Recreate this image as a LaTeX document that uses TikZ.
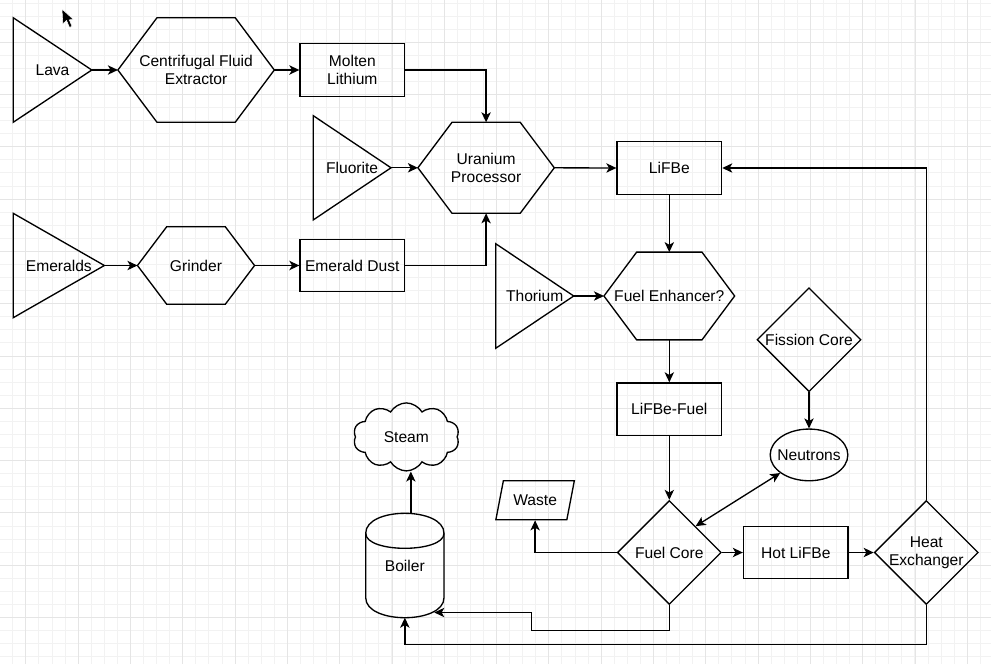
\documentclass[tikz,border=0pt]{standalone}
\usepackage{fontspec}
\setmainfont{Liberation Sans}
\usetikzlibrary{shapes.geometric,shapes.symbols,arrows.meta,calc}

\newlength\pxu
\setlength\pxu{0.75pt}

% outlines drawn from the anchors of a plain node
\newcommand\tri[1]{\draw[outline] (#1.north west) -- (#1.east) -- (#1.south west) -- cycle;}
\newcommand\hexa[1]{\draw[outline] (#1.west) -- ($(#1.north west)!.25!(#1.north east)$)
  -- ($(#1.north west)!.75!(#1.north east)$) -- (#1.east)
  -- ($(#1.south west)!.75!(#1.south east)$) -- ($(#1.south west)!.25!(#1.south east)$) -- cycle;}
\newcommand\drum[1]{\draw[outline] ($(#1.north west)+(0,20)$)
  .. controls ($(#1.north west)+(0,-6.67)$) and ($(#1.north east)+(0,-6.67)$) .. ($(#1.north east)+(0,20)$)
  -- ($(#1.south east)+(0,-20)$)
  .. controls ($(#1.south east)+(0,6.67)$) and ($(#1.south west)+(0,6.67)$) .. ($(#1.south west)+(0,-20)$)
  -- cycle;
  \draw[outline] ($(#1.north west)+(0,20)$)
  .. controls ($(#1.north west)+(0,40)$) and ($(#1.north east)+(0,40)$) .. ($(#1.north east)+(0,20)$);}

\tikzset{
  every node/.style={font=\fontsize{11.7pt}{13.75pt}\selectfont},
  minorgrid/.style={black!5, line width=0.75pt},
  majorgrid/.style={black!10, line width=0.75pt},
  outline/.style={line width=1pt, line join=miter},
  plain/.style={outer sep=0pt, inner sep=1pt, align=center},
  box/.style={draw, line width=1pt, minimum width=104.6\pxu, minimum height=52.5\pxu, inner sep=1pt, align=center},
  rhomb/.style={diamond, draw, line width=1pt, minimum width=104\pxu, minimum height=104\pxu, inner sep=0pt},
  flow/.style={line width=1pt, -{Stealth[length=7.5pt,width=7pt,inset=2pt]}},
  flowboth/.style={line width=1pt, {Stealth[length=7.5pt,width=7pt,inset=2pt]}-{Stealth[length=7.5pt,width=7pt,inset=2pt]}}
}

\begin{document}
\begin{tikzpicture}[x=0.75pt,y=-0.75pt]
\useasboundingbox (0,0) rectangle (991,664);
\fill[white] (0,0) rectangle (991,664);

% grid
\foreach \i in {0,...,75} \draw[minorgrid] ({12.8+13.075*\i},0) -- ++(0,664);
\foreach \j in {0,...,50} \draw[minorgrid] (0,{3+13.075*\j}) -- ++(991,0);
\foreach \i in {0,...,18} \draw[majorgrid] ({25.9+52.3*\i},0) -- ++(0,664);
\foreach \j in {0,...,11} \draw[majorgrid] (0,{42.2+52.3*\j}) -- ++(991,0);

% mouse pointer
\fill[black, draw=white, line width=0.4pt] (62,9) -- (62.8,24) -- (66.5,20.5) -- (69.5,27.5) -- (72,26.3) -- (69.3,19.8) -- (73.5,19.5) -- cycle;

% sources and processors
\node[plain, minimum width=78.6\pxu, minimum height=104.6\pxu] (lava) at (52.5,70) {Lava};
\node[plain, minimum width=156.4\pxu, minimum height=104.6\pxu] (cfe) at (196.1,70) {Centrifugal Fluid\\Extractor};
\node[box] (molten) at (352.3,70) {Molten\\Lithium};

\node[plain, minimum width=77.8\pxu, minimum height=104.3\pxu] (fluorite) at (352.1,167.8) {Fluorite};
\node[plain, minimum width=136.4\pxu, minimum height=91\pxu] (uranium) at (486.1,167.8) {Uranium\\Processor};

\node[plain, minimum width=91.1\pxu, minimum height=104.4\pxu] (emeralds) at (58.8,265.5) {Emeralds};
\node[plain, minimum width=117.1\pxu, minimum height=77.6\pxu] (grinder) at (196,265.5) {Grinder};
\node[box] (dust) at (352.3,265.5) {Emerald Dust};

\node[box] (lifbe) at (669.3,168) {LiFBe};
\node[plain, minimum width=78\pxu, minimum height=104.6\pxu] (thorium) at (534.7,296) {Thorium};
\node[plain, minimum width=130.7\pxu, minimum height=87.7\pxu] (enhancer) at (669.3,296) {Fuel Enhancer?};
\node[box] (lifbefuel) at (669.3,409.2) {LiFBe-Fuel};

\node[rhomb, label=center:{Fission Core}] (fission) at (809,339.7) {};
\node[ellipse, draw, line width=1pt, minimum width=77.7\pxu, minimum height=51.7\pxu, inner sep=0pt, label=center:Neutrons] (neutrons) at (809,454.9) {};

\node[rhomb, label=center:{Fuel Core}] (fuelcore) at (669.3,552.5) {};
\node[trapezium, draw, line width=1pt, trapezium left angle=68, trapezium right angle=112, trapezium stretches, minimum width=78.8\pxu, minimum height=39\pxu, inner sep=1pt] (waste) at (535.1,500.2) {Waste};
\node[box] (hotlifbe) at (795.8,552.5) {Hot LiFBe};
\node[rhomb, label={[align=center]center:Heat\\Exchanger}] (heatx) at (926.3,552.5) {};

\node[plain, minimum width=78.3\pxu, minimum height=104.4\pxu] (boiler) at (404.85,565.5) {Boiler};
\node[cloud, draw, line width=1pt, cloud puffs=10, cloud puff arc=120, aspect=1.6, minimum width=106\pxu, minimum height=68\pxu, inner sep=1pt] (steam) at (406.3,436.9) {Steam};

\tri{lava}
\tri{fluorite}
\tri{emeralds}
\tri{thorium}
\hexa{cfe}
\hexa{uranium}
\hexa{grinder}
\hexa{enhancer}
\drum{boiler}

\coordinate (kink) at (531.4,630.7);
\coordinate (boilerin) at (434.3,612.5);

\path[draw,flow] (lava.east) -- (cfe.west);
\path[draw,flow] (cfe.east) -- (molten.west);
\path[draw,flow] (molten.east) -| (uranium.north);
\path[draw,flow] (fluorite.east) -- (uranium.west);
\path[draw,flow] (emeralds.east) -- (grinder.west);
\path[draw,flow] (grinder.east) -- (dust.west);
\path[draw,flow] (dust.east) -| (uranium.south);
\path[draw,flow] (uranium.east) -- (lifbe.west);
\path[draw,flow] (lifbe.south) -- (enhancer.north);
\path[draw,flow] (thorium.east) -- (enhancer.west);
\path[draw,flow] (enhancer.south) -- (lifbefuel.north);
\path[draw,flow] (lifbefuel.south) -- (fuelcore.north);
\path[draw,flow] (fission.south) -- (neutrons.north);
\path[draw,flowboth] ($(fuelcore.north)!.5!(fuelcore.east)$) -- (neutrons);
\path[draw,flow] (fuelcore.west) -| (waste.south);
\path[draw,flow] (fuelcore.east) -- (hotlifbe.west);
\path[draw,flow] (hotlifbe.east) -- (heatx.west);
\path[draw,flow] (heatx.north) |- (lifbe.east);
\path[draw,flow] (heatx.south) -- ++(0,39.2) -| (boiler.south);
\path[draw,flow] (fuelcore.south) |- (kink) |- (boilerin);
\path[draw,flow] ([xshift=4.5pt,yshift=-0.5pt]boiler.north) -- ([xshift=4.5pt]boiler.north |- steam.south);
\end{tikzpicture}
\end{document}
